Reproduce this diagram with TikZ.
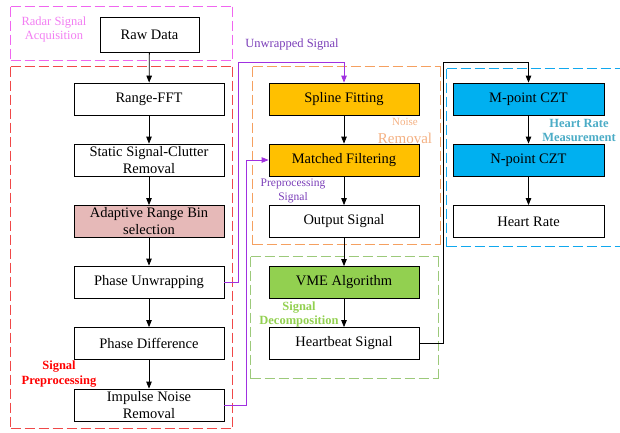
\documentclass[tikz,border=0pt]{standalone}
\usepackage{fontspec}
\setmainfont{Liberation Serif}
\usetikzlibrary{arrows.meta}
\definecolor{cpink}{HTML}{F066F0}
\definecolor{cred}{HTML}{F04848}
\definecolor{corange}{HTML}{F5A060}
\definecolor{cgreen}{HTML}{9CC97A}
\definecolor{cblue}{HTML}{10A8EE}
\definecolor{cgold}{HTML}{FFC000}
\definecolor{ccyan}{HTML}{00B0F0}
\definecolor{clime}{HTML}{92D050}
\definecolor{crose}{HTML}{E6B9B8}
\definecolor{cpurp}{HTML}{A030E0}
\definecolor{cpurptxt}{HTML}{7A3DB8}
\definecolor{cmeas}{HTML}{4BACC6}
\definecolor{cornlbl}{HTML}{F4B183}
\definecolor{clabpink}{HTML}{F27EF2}
\tikzset{
  box/.style={draw, line width=0.8pt, minimum width=150pt, minimum height=32pt, inner sep=1pt, align=center, font=\fontsize{14.5}{17}\selectfont},
  frameline/.style={draw=#1, line width=1.1pt, line cap=butt},
  arr/.style={-{Triangle[length=7pt,width=5.5pt]}, line width=0.8pt},
  lbl/.style={font=\fontsize{12.5}{14}\selectfont, align=center, inner sep=0pt},
  blbl/.style={font=\bfseries\fontsize{12.5}{14.5}\selectfont, align=center, inner sep=0pt},
}
% manual dashes: horizontal (x1,x2,y,colour) and vertical (x,y1,y2,colour)
\newcommand{\myhdash}[4]{%
  \pgfmathtruncatemacro{\mynd}{floor((#2-(#1))/14)}%
  \foreach \i in {0,...,\mynd}{%
    \pgfmathsetmacro{\mxa}{#1+14*\i}%
    \pgfmathsetmacro{\mxb}{min(\mxa+10,#2)}%
    \path[frameline=#4] (\mxa,#3) -- (\mxb,#3);
  }}
\newcommand{\myvdash}[4]{%
  \pgfmathtruncatemacro{\mynd}{floor((#3-(#2))/14)}%
  \foreach \i in {0,...,\mynd}{%
    \pgfmathsetmacro{\mya}{#2+14*\i}%
    \pgfmathsetmacro{\myb}{min(\mya+10,#3)}%
    \path[frameline=#4] (#1,\mya) -- (#1,\myb);
  }}
\newcommand{\myframe}[5]{% x1 y1 x2 y2 colour
  \myhdash{#1}{#3}{#2}{#5}\myhdash{#1}{#3}{#4}{#5}%
  \myvdash{#1}{#2}{#4}{#5}\myvdash{#3}{#2}{#4}{#5}}
\begin{document}
\begin{tikzpicture}[x=1pt,y=-1pt]
\useasboundingbox (0,0) rectangle (620,432);
% group frames
\myframe{10.5}{6.5}{232.5}{60.5}{cpink}
\myframe{10.5}{66.5}{232.5}{428.5}{cred}
\myframe{252.5}{66.5}{440.5}{244.5}{corange}
\myframe{250.5}{256.5}{438.5}{378.5}{cgreen}
\myhdash{446.5}{625}{68.5}{cblue}
\myhdash{446.5}{625}{246.5}{cblue}
\myvdash{446.5}{68.5}{246.5}{cblue}
% left column
\node[box, minimum width=99pt, minimum height=35pt] (raw) at (149.5,34.5) {Raw Data};
\node[box] (rfft) at (149,99) {Range-FFT};
\node[box] (ssc) at (149,160) {Static Signal-Clutter\\Removal};
\node[box, fill=crose] (arb) at (149,221.5) {Adaptive Range Bin\\selection};
\node[box] (pu) at (149,282) {Phase Unwrapping};
\node[box] (pd) at (149,343.5) {Phase Difference};
\node[box] (inr) at (149,405) {Impulse Noise\\Removal};
% middle column
\node[box, fill=cgold] (sf) at (344,99) {Spline Fitting};
\node[box, fill=cgold] (mf) at (344,160) {Matched Filtering};
\node[box] (os) at (344,221.5) {Output Signal};
\node[box, fill=clime] (vme) at (344,282.5) {VME Algorithm};
\node[box] (hb) at (344,343.5) {Heartbeat Signal};
% right column
\node[box, fill=ccyan, minimum width=151pt] (mc) at (528.5,99) {M-point CZT};
\node[box, fill=ccyan, minimum width=151pt] (nc) at (528.5,160) {N-point CZT};
\node[box, minimum width=151pt] (hr) at (528.5,221.5) {Heart Rate};
% labels
\node[lbl, text=clabpink] (lacq) at (54,29) {Radar Signal\\Acquisition};
\node[blbl, text=red] (lpre) at (59,374) {Signal\\Preprocessing};
\node[lbl, text=cpurptxt] (lunw) at (292,45) {Unwrapped Signal};
\node[lbl, text=cpurptxt, font=\fontsize{11.5}{13.5}\selectfont] (lpsig) at (293,191) {Preprocessing\\Signal};
\node[lbl, text=cornlbl, font=\fontsize{11}{12}\selectfont] (lnoise) at (405,122) {Noise};
\node[lbl, text=cornlbl, font=\fontsize{15}{16}\selectfont] (lrem) at (405,138.5) {Removal};
\node[blbl, text=cmeas] (lhrm) at (579,130.5) {Heart Rate\\Measurement};
\node[blbl, text=clime] (ldec) at (299,314.5) {Signal\\Decomposition};
% coordinates for bends
\coordinate (c1) at (238.5,62.5);
\coordinate (c2) at (246.5,160);
\coordinate (c3) at (443,62.5);
% arrows
\draw[arr] (raw) -- (rfft);
\draw[arr] (rfft) -- (ssc);
\draw[arr] (ssc) -- (arb);
\draw[arr] (arb) -- (pu);
\draw[arr] (pu) -- (pd);
\draw[arr] (pd) -- (inr);
\draw[arr] (sf) -- (mf);
\draw[arr] (mf) -- (os);
\draw[arr] (os) -- (vme);
\draw[arr] (vme) -- (hb);
\draw[arr] (mc) -- (nc);
\draw[arr] (nc) -- (hr);
\draw[arr, cpurp] (pu.east) -| (c1) -| (sf.north);
\draw[arr, cpurp] (inr.east) -| (c2) -- (mf.west);
\draw[arr] (hb.east) -| (c3) -| (mc.north);
\end{tikzpicture}
\end{document}
